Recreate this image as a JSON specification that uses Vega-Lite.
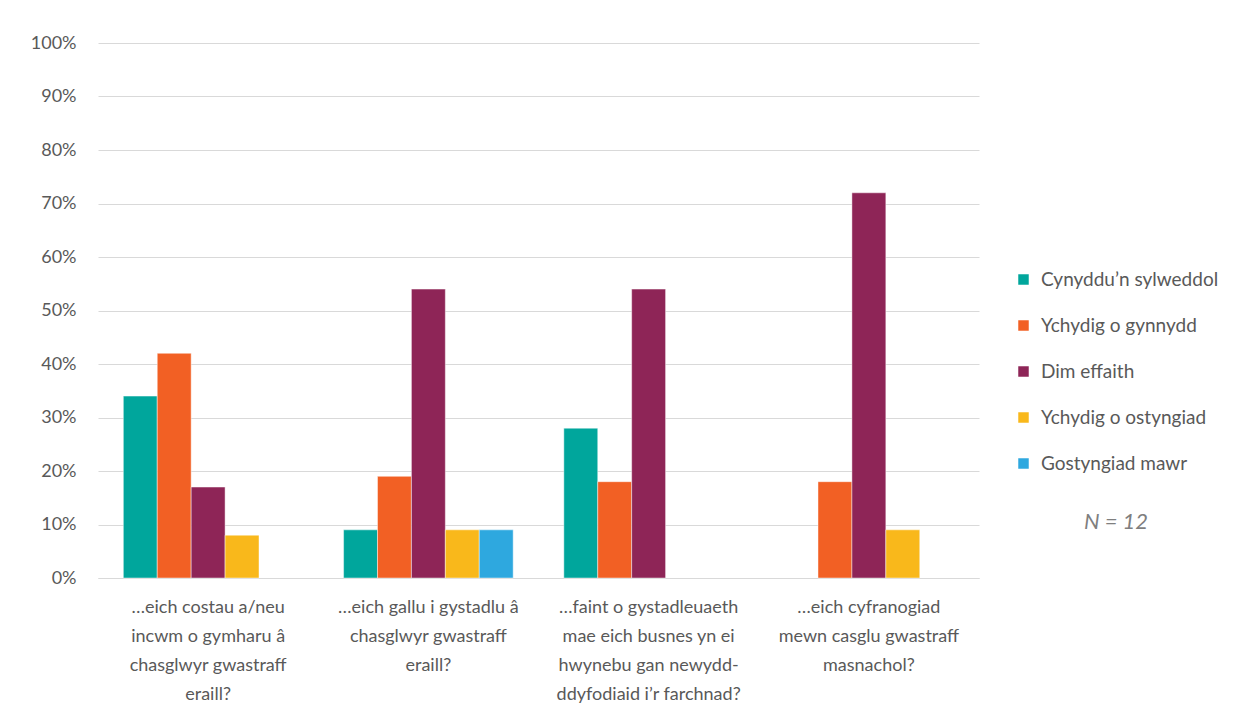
{
  "$schema": "https://vega.github.io/schema/vega-lite/v6.json",
  "width": 881,
  "height": 535,
  "padding": {"left": 30, "top": 34, "right": 0, "bottom": 0},
  "background": "white",
  "config": {
    "font": "Lato",
    "view": {"stroke": null},
    "axis": {"labelColor": "#595959", "labelFont": "Lato", "titleColor": "#595959"}
  },
  "data": {
    "values": [
      {"q": "…eich costau a/neu|incwm o gymharu â|chasglwyr gwastraff|eraill?", "s": "Cynyddu’n sylweddol", "v": 0.34},
      {"q": "…eich costau a/neu|incwm o gymharu â|chasglwyr gwastraff|eraill?", "s": "Ychydig o gynnydd", "v": 0.42},
      {"q": "…eich costau a/neu|incwm o gymharu â|chasglwyr gwastraff|eraill?", "s": "Dim effaith", "v": 0.17},
      {"q": "…eich costau a/neu|incwm o gymharu â|chasglwyr gwastraff|eraill?", "s": "Ychydig o ostyngiad", "v": 0.08},
      {"q": "…eich gallu i gystadlu â|chasglwyr gwastraff|eraill?", "s": "Cynyddu’n sylweddol", "v": 0.09},
      {"q": "…eich gallu i gystadlu â|chasglwyr gwastraff|eraill?", "s": "Ychydig o gynnydd", "v": 0.19},
      {"q": "…eich gallu i gystadlu â|chasglwyr gwastraff|eraill?", "s": "Dim effaith", "v": 0.54},
      {"q": "…eich gallu i gystadlu â|chasglwyr gwastraff|eraill?", "s": "Ychydig o ostyngiad", "v": 0.09},
      {"q": "…eich gallu i gystadlu â|chasglwyr gwastraff|eraill?", "s": "Gostyngiad mawr", "v": 0.09},
      {"q": "…faint o gystadleuaeth|mae eich busnes yn ei|hwynebu gan newydd-|ddyfodiaid i’r farchnad?", "s": "Cynyddu’n sylweddol", "v": 0.28},
      {"q": "…faint o gystadleuaeth|mae eich busnes yn ei|hwynebu gan newydd-|ddyfodiaid i’r farchnad?", "s": "Ychydig o gynnydd", "v": 0.18},
      {"q": "…faint o gystadleuaeth|mae eich busnes yn ei|hwynebu gan newydd-|ddyfodiaid i’r farchnad?", "s": "Dim effaith", "v": 0.54},
      {"q": "…eich cyfranogiad|mewn casglu gwastraff|masnachol?", "s": "Ychydig o gynnydd", "v": 0.18},
      {"q": "…eich cyfranogiad|mewn casglu gwastraff|masnachol?", "s": "Dim effaith", "v": 0.72},
      {"q": "…eich cyfranogiad|mewn casglu gwastraff|masnachol?", "s": "Ychydig o ostyngiad", "v": 0.09}
    ]
  },
  "mark": {"type": "bar", "stroke": "white", "strokeWidth": 0.75, "strokeOpacity": 0.6},
  "encoding": {
    "x": {
      "field": "q",
      "type": "nominal",
      "sort": null,
      "scale": {"paddingInner": 0.23, "paddingOuter": 0.115},
      "axis": {
        "title": null,
        "labelAngle": 0,
        "labelExpr": "split(datum.label, '|')",
        "labelFontSize": 18,
        "labelLineHeight": 29,
        "labelPadding": 20,
        "labelLimit": 260,
        "labelBaseline": "top",
        "ticks": false,
        "domainColor": "#d9d9d9",
        "domainWidth": 1
      }
    },
    "xOffset": {
      "field": "s",
      "type": "nominal",
      "scale": {"domain": ["Cynyddu’n sylweddol", "Ychydig o gynnydd", "Dim effaith", "Ychydig o ostyngiad", "Gostyngiad mawr"], "paddingInner": 0, "paddingOuter": 0}
    },
    "y": {
      "field": "v",
      "type": "quantitative",
      "scale": {"domain": [0, 1], "nice": false},
      "axis": {
        "title": null,
        "values": [0, 0.1, 0.2, 0.3, 0.4, 0.5, 0.6, 0.7, 0.8, 0.9, 1],
        "format": ".0%",
        "labelFontSize": 18,
        "labelPadding": 22,
        "ticks": false,
        "domain": false,
        "gridColor": "#d9d9d9",
        "gridWidth": 1
      }
    },
    "color": {
      "field": "s",
      "type": "nominal",
      "scale": {
        "domain": ["Cynyddu’n sylweddol", "Ychydig o gynnydd", "Dim effaith", "Ychydig o ostyngiad", "Gostyngiad mawr"],
        "range": ["#00a69c", "#f26024", "#8e2557", "#f9b81b", "#2ea8df"]
      },
      "legend": {
        "title": "N = 12",
        "titleOrient": "bottom",
        "titleAnchor": "middle",
        "titleFontStyle": "italic",
        "titleFontWeight": "normal",
        "titleFontSize": 22,
        "titleColor": "#7f7f7f",
        "titlePadding": 38,
        "orient": "none",
        "legendX": 916,
        "legendY": 227,
        "symbolType": "square",
        "symbolSize": 110,
        "symbolStrokeWidth": 0,
        "labelFontSize": 19,
        "labelColor": "#595959",
        "labelLimit": 300,
        "rowPadding": 26,
        "labelOffset": 8
      }
    }
  }
}
